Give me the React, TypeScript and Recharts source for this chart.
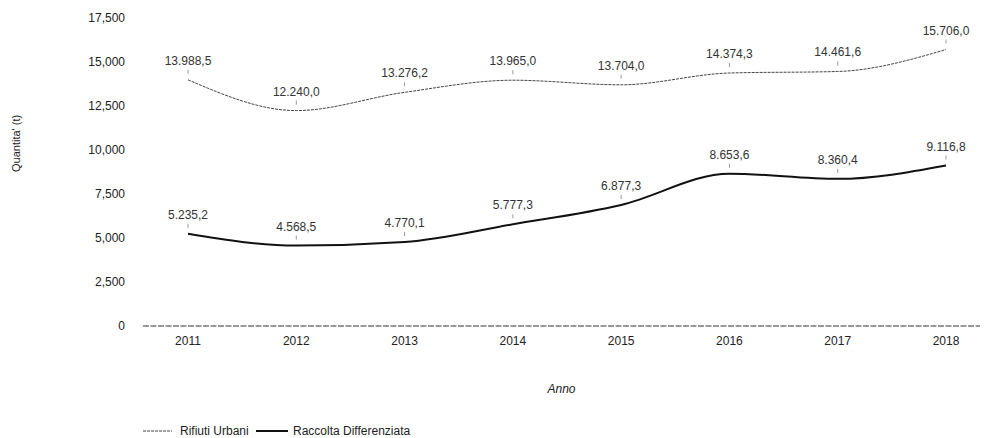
import React from "react";
import { LineChart, Line, XAxis, YAxis, Legend, LabelList } from "recharts";

const anni = ["2011", "2012", "2013", "2014", "2015", "2016", "2017", "2018"];
const rifiutiUrbani = [13988.5, 12240.0, 13276.2, 13965.0, 13704.0, 14374.3, 14461.6, 15706.0];
const raccoltaDifferenziata = [5235.2, 4568.5, 4770.1, 5777.3, 6877.3, 8653.6, 8360.4, 9116.8];
const yTicks = [0, 2500, 5000, 7500, 10000, 12500, 15000, 17500];

const data = anni.map((anno, i) => ({
  anno,
  ru: rifiutiUrbani[i],
  rd: raccoltaDifferenziata[i],
}));

const FONT = "'Liberation Sans', Arial, sans-serif";

// 13988.5 -> "13.988,5"
const fmtIt = (v: number) => {
  const [int, dec] = v.toFixed(1).split(".");
  return int.replace(/\B(?=(\d{3})+(?!\d))/g, ".") + "," + dec;
};
const fmtTick = (v: number) => String(v).replace(/\B(?=(\d{3})+(?!\d))/g, ",");

const PointLabel = (props: any) => {
  const { x, y, value } = props;
  return (
    <g>
      <line x1={x} x2={x} y1={y - 10} y2={y - 6} stroke="#999" strokeWidth={1} />
      <text x={x} y={y - 15} textAnchor="middle" fontSize={12} fill="#333" fontFamily={FONT}>
        {fmtIt(value)}
      </text>
    </g>
  );
};

const renderLegend = () => (
  <svg width={300} height={13} style={{ display: "block" }}>
    <line x1={8} x2={37} y1={6} y2={6} stroke="#444" strokeWidth={1} strokeDasharray="3 1" />
    <text x={45} y={10} fontSize={12} fill="#222" fontFamily={FONT}>Rifiuti Urbani</text>
    <line x1={121} x2={153} y1={6} y2={6} stroke="#111" strokeWidth={2} />
    <text x={158} y={10} fontSize={12} fill="#222" fontFamily={FONT}>Raccolta Differenziata</text>
  </svg>
);

const App: React.FC = () => {
  return (
    <div style={{ position: "absolute", left: 0, top: 0, width: 1007, height: 438, background: "#fff" }}>
      <LineChart width={1007} height={438} data={data} margin={{ top: 18, right: 27, bottom: 27, left: 0 }}>
        <XAxis
          dataKey="anno"
          padding={{ left: 45, right: 34 }}
          axisLine={{ stroke: "#333", strokeDasharray: "6 1.5" }}
          tickLine={false}
          tick={{ fontSize: 12, fill: "#222", fontFamily: FONT }}
          tickMargin={4}
          height={72}
          label={{ value: "Anno", position: "insideBottom", offset: 5, fontSize: 12, fontStyle: "italic", fill: "#222", fontFamily: FONT }}
        />
        <YAxis
          width={143}
          domain={[0, 17500]}
          ticks={yTicks}
          tickFormatter={fmtTick}
          axisLine={false}
          tickLine={false}
          tickMargin={12}
          tick={{ fontSize: 12, fill: "#222", fontFamily: FONT }}
          label={{ value: "Quantita' (t)", angle: -90, position: "insideLeft", offset: 16, fontSize: 11, fill: "#222", fontFamily: FONT }}
        />
        <Legend
          verticalAlign="bottom"
          content={renderLegend}
          wrapperStyle={{ position: "absolute", left: 135, top: 425, width: 300, height: 13 }}
        />
        <Line
          type="monotone"
          dataKey="ru"
          name="Rifiuti Urbani"
          stroke="#444"
          strokeWidth={1}
          strokeDasharray="3 1"
          dot={false}
          activeDot={false}
          isAnimationActive={false}
        >
          <LabelList dataKey="ru" content={PointLabel} />
        </Line>
        <Line
          type="monotone"
          dataKey="rd"
          name="Raccolta Differenziata"
          stroke="#111"
          strokeWidth={2}
          dot={false}
          activeDot={false}
          isAnimationActive={false}
        >
          <LabelList dataKey="rd" content={PointLabel} />
        </Line>
      </LineChart>
    </div>
  );
};

export default App;
